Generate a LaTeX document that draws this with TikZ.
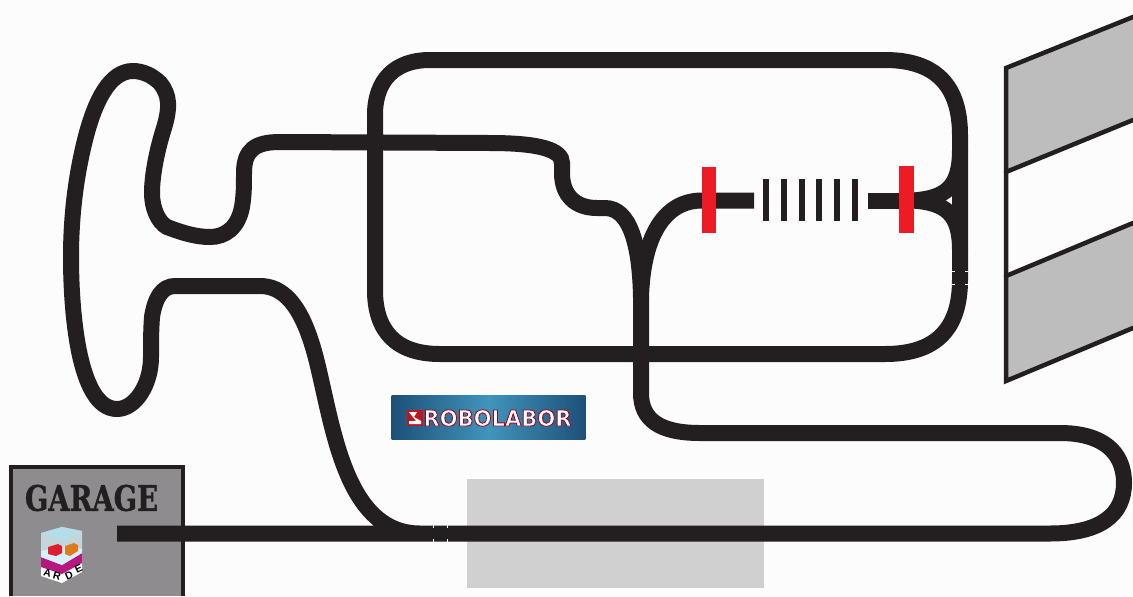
\documentclass[tikz,border=0pt]{standalone}
\usepackage{fontspec}
\usepackage{xcolor}
\usetikzlibrary{calc}
\newfontfamily\garagefont[RawFeature={embolden=1.2}]{DejaVu Serif}
\newfontfamily\robofont[RawFeature={embolden=4}]{DejaVu Sans}
\newfontfamily\ardefont{Liberation Sans}
\definecolor{trackblack}{HTML}{231F20}
\definecolor{stopred}{HTML}{ED1C24}
\definecolor{garagegray}{HTML}{8E8C8E}
\definecolor{zonegray}{HTML}{D0D0D0}
\definecolor{bandgray}{HTML}{BDBDBD}
\definecolor{robolight}{HTML}{3F95BC}
\definecolor{robodark}{HTML}{1F4F78}
\definecolor{ardemagenta}{HTML}{B5187F}
\definecolor{ardeglass}{HTML}{C3D6DC}
\definecolor{ardetop}{HTML}{B5DDE8}
\definecolor{ardefloor}{HTML}{D5F0F8}
\definecolor{arderedcube}{HTML}{DD2030}
\definecolor{ardeorange}{HTML}{DE7A20}
\begin{document}
\begin{tikzpicture}[x=0.02cm, y=-0.02cm,
    track/.style={draw=trackblack, line width=0.32cm},
    tick/.style={draw=white, line width=0.02cm},
    barrier/.style={fill=stopred, minimum width=0.29cm, minimum height=1.33cm, inner sep=0pt},
    stripe/.style={fill=trackblack, minimum width=0.12cm, minimum height=0.84cm, inner sep=0pt},
    band/.style={fill=bandgray},
    edge/.style={draw=trackblack, line width=0.09cm, line cap=round},
    ardeletter/.style={font=\ardefont\bfseries\fontsize{6}{7}\selectfont, text=black, inner sep=0pt}]
  \useasboundingbox (0,0) rectangle (1133,596);
  \fill[white!99!black] (0,0) rectangle (1133,596);
  \fill[band] (1006,68) -- (1133,17) -- (1133,120) -- (1006,172) -- cycle;
  \fill[band] (1006,276) -- (1133,223) -- (1133,328) -- (1006,381) -- cycle;
  \draw[edge] (1133,17) -- (1006,68) -- (1006,381) -- (1133,328);
  \draw[edge] (1006,172) -- (1133,120);
  \draw[edge] (1006,276) -- (1133,223);
  \fill[zonegray] (467,479) rectangle (764,588);
  \draw[draw=trackblack, line width=0.08cm, fill=garagegray] (11,596) -- (11,467) -- (183,467) -- (183,596);
  \node[font=\garagefont\bfseries\fontsize{20}{22}\selectfont, text=trackblack, inner sep=0pt] (garage) at (91.5,498) {\scalebox{0.78}[1]{GARAGE}};
  \draw[track] (375,115) .. controls (375,80) and (395,60) .. (430,60) -- (885,60)
    .. controls (935,60) and (960,85) .. (960,135) -- (960,280)
    .. controls (960,330) and (935,354) .. (885,354) -- (440,354)
    .. controls (395,354) and (375,330) .. (375,290) -- cycle;
  \draw[track] (913,200.5) .. controls (945,198) and (960,188) .. (960,150);
  \draw[track] (913,200.5) .. controls (945,203) and (960,213) .. (960,250);
  \draw[track] (905,200.5) -- (868,200.5);
  \draw[track] (754,200.5) -- (702,200.5) .. controls (665,200.5) and (643,235) .. (641,297);
  \draw[track] (117,533.5) -- (1050,533.5) .. controls (1100,533.5) and (1124,515) .. (1124,483)
    .. controls (1124,450) and (1100,433) .. (1060,433) -- (700,433)
    .. controls (660,433) and (641,420) .. (641,393) -- (641,297)
    .. controls (640,245) and (630,208) .. (605,208) -- (597,208)
    .. controls (575,208) and (562,195) .. (562,173) -- (562,163)
    .. controls (562,150) and (540,143) .. (490,143) -- (280,142)
    .. controls (255,142) and (244,150) .. (244,173)
    .. controls (244,185) and (244,195) .. (242,207)
    .. controls (238,228) and (225,237) .. (210,237)
    .. controls (195,237) and (180,232) .. (167,227)
    .. controls (158,222) and (152,208) .. (152,193)
    .. controls (152,175) and (157,150) .. (164,128)
    .. controls (170,108) and (170,95) .. (160,83)
    .. controls (152,75) and (142,71) .. (133,71)
    .. controls (110,71) and (95,100) .. (85,140)
    .. controls (75,180) and (71,220) .. (71,257)
    .. controls (71,310) and (78,409) .. (117,409)
    .. controls (135,409) and (151,385) .. (151,357)
    .. controls (151,345) and (151,330) .. (152,317)
    .. controls (155,298) and (162,286) .. (175,286) -- (260,286)
    .. controls (295,286) and (310,330) .. (320,375)
    .. controls (335,440) and (350,533.5) .. (420,533.5);
  \node[barrier] (barrierleft) at (708.75,200) {};
  \node[barrier] (barrierright) at (906.25,199.5) {};
  \foreach \i [count=\n] in {766.3,784,801.7,819.4,837.1,854.8}
    \node[stripe] (stripe\n) at (\i,200) {};
  \foreach \i in {271,284}
    \draw[tick] (952,\i) -- (955,\i) (965,\i) -- (968,\i);
  \foreach \i in {433,447}
    \draw[tick] (\i,525) -- (\i,528) (\i,539) -- (\i,542);
  \node[left color=robodark, right color=robodark, middle color=robolight, minimum width=3.88cm, minimum height=0.88cm, inner sep=0pt] (robopanel) at (488.5,417) {};
  \node[fill=stopred!80!black, minimum width=0.32cm, minimum height=0.32cm, inner sep=0pt] (roboicon) at (415,418) {};
  \fill[white] (409,412) -- (417,412) -- (414,417) -- (421,421) -- (421,424) -- (409,424) -- (409,421) -- (416,421) -- cycle;
  \node[font=\robofont\bfseries\fontsize{12.5}{13}\selectfont, text=white, inner sep=0pt] (robotext) at (497.5,418) {\special{pdf:code 0.6 0.02 0.12 RG}\scalebox{0.96}[1]{ROBOLABOR}};
  \fill[white] (41,555) -- (62,565) -- (82,553) -- (82,572) -- (62,583) -- (41,576) -- cycle;
  \fill[ardemagenta] (41,557) -- (62,565) -- (82,553) -- (82,563) -- (62,574) -- (41,567) -- cycle;
  \fill[ardefloor] (41,550) -- (62,543) -- (82,548) -- (82,553) -- (62,565) -- (41,557) -- cycle;
  \fill[ardeglass] (41,533) -- (62,527) -- (82,531) -- (82,549) -- (62,546) -- (41,551) -- cycle;
  \fill[ardetop] (41,533) -- (62,527) -- (82,531) -- (62,540) -- cycle;
  \fill[arderedcube] (48,547) -- (58,544) -- (62,546) -- (62,553) -- (56,556) -- (48,554) -- cycle;
  \fill[ardeorange] (65,546) -- (74,543) -- (78,545) -- (78,551) -- (70,556) -- (65,554) -- cycle;
  \node[ardeletter, rotate=-15] (ardea) at (47.5,572.5) {A};
  \node[ardeletter, rotate=-15] (arder) at (57,575.5) {R};
  \node[ardeletter, rotate=25] (arded) at (69,576) {D};
  \node[ardeletter, rotate=25] (ardee) at (78.5,569) {E};
\end{tikzpicture}
\end{document}
